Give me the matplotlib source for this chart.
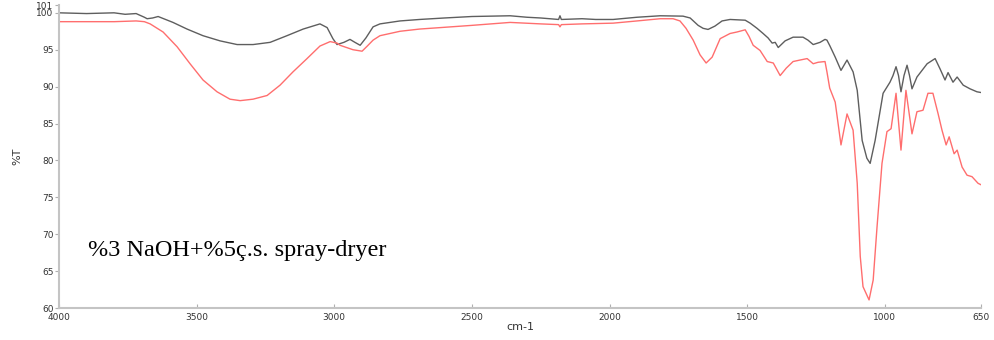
#!/usr/bin/python
# -*- coding: utf-8 -*-
import matplotlib
matplotlib.use('Agg')
import matplotlib.pyplot as plt

# wavenumber (cm-1) / %T
grey_x = [4000, 3900, 3800, 3760, 3720, 3690, 3680, 3660, 3640, 3586, 3535, 3477, 3415, 3353,
          3295, 3233, 3172, 3113, 3052, 3026, 3005, 2990, 2965, 2943, 2925, 2906, 2885, 2859,
          2834, 2761, 2690, 2600, 2500, 2361, 2300, 2250, 2185, 2180, 2175, 2100, 2050, 1987,
          1900, 1816, 1733, 1707, 1678, 1660, 1642, 1617, 1591, 1562, 1507, 1489, 1464, 1442,
          1424, 1409, 1398, 1387, 1362, 1333, 1297, 1279, 1260, 1235, 1217, 1210, 1199, 1180,
          1159, 1137, 1115, 1100, 1082, 1065, 1053, 1035, 1006, 981, 970, 959, 950, 941, 930,
          919, 910, 901, 883, 846, 817, 799, 781, 770, 752, 737, 715, 690, 665, 650]
grey_y = [100.0, 99.9, 100.0, 99.8, 99.9, 99.4, 99.2, 99.3, 99.5, 98.7, 97.8, 96.9, 96.2, 95.7,
          95.7, 96.0, 96.9, 97.8, 98.5, 98.0, 96.5, 95.7, 96.0, 96.4, 96.0, 95.6, 96.6, 98.1,
          98.5, 98.9, 99.1, 99.3, 99.5, 99.6, 99.4, 99.3, 99.1, 99.6, 99.1, 99.2, 99.1, 99.1,
          99.4, 99.6, 99.55, 99.3, 98.3, 97.9, 97.75, 98.2, 98.9, 99.1, 99.0, 98.6, 97.9, 97.2,
          96.6, 95.9, 96.0, 95.3, 96.2, 96.7, 96.7, 96.3, 95.7, 96.0, 96.4, 96.3, 95.5, 94.0,
          92.2, 93.6, 92.0, 89.5, 82.7, 80.3, 79.6, 82.7, 89.1, 90.6, 91.5, 92.7, 91.5, 89.3, 91.5,
          92.9, 91.5, 89.7, 91.3, 93.1, 93.8, 92.4, 90.9, 91.9, 90.6, 91.3, 90.2, 89.7, 89.3, 89.2]

red_x = [4000, 3800, 3720, 3690, 3669, 3622, 3571, 3524, 3477, 3426, 3379, 3342, 3295, 3244,
         3197, 3150, 3099, 3052, 3015, 2990, 2979, 2932, 2899, 2880, 2859, 2834, 2761, 2690,
         2500, 2361, 2250, 2185, 2180, 2175, 2100, 1987, 1900, 1816, 1769, 1744, 1722, 1696,
         1671, 1649, 1627, 1598, 1562, 1537, 1507, 1493, 1478, 1453, 1427, 1405, 1380, 1358,
         1333, 1308, 1282, 1260, 1242, 1217, 1210, 1200, 1180, 1159, 1137, 1115, 1100, 1089,
         1079, 1057, 1042, 1028, 1010, 992, 977, 959, 941, 923, 901, 883, 861, 843, 825, 806,
         792, 777, 766, 748, 737, 719, 701, 683, 661, 650]
red_y = [98.8, 98.8, 98.9, 98.8, 98.5, 97.4, 95.4, 93.1, 90.9, 89.3, 88.3, 88.1, 88.3, 88.8,
         90.2, 92.0, 93.8, 95.5, 96.1, 95.9, 95.6, 95.0, 94.8, 95.5, 96.3, 96.9, 97.5, 97.8,
         98.3, 98.7, 98.5, 98.4, 98.1, 98.4, 98.5, 98.6, 98.9, 99.2, 99.2, 98.9, 97.9, 96.3,
         94.3, 93.2, 94.0, 96.5, 97.2, 97.4, 97.7, 96.8, 95.6, 94.9, 93.4, 93.2, 91.5, 92.5,
         93.4, 93.6, 93.8, 93.1, 93.3, 93.4, 92.0, 89.8, 87.9, 82.1, 86.3, 84.1, 76.9, 67.0,
         62.9, 61.1, 63.8, 71.0, 79.6, 83.9, 84.3, 89.1, 81.4, 89.5, 83.6, 86.6, 86.8, 89.1,
         89.1, 86.3, 84.1, 82.1, 83.2, 80.9, 81.4, 79.1, 78.0, 77.8, 76.9, 76.7]

y_ticks = [60, 65, 70, 75, 80, 85, 90, 95, 100, 101]
x_ticks = [4000, 3500, 3000, 2500, 2000, 1500, 1000, 650]

fig = plt.figure(figsize=(9.94, 3.4), dpi=100)
ax = fig.add_axes([0.0594, 0.094, 0.9276, 0.890])

ax.plot(grey_x, grey_y, color='#5e5e5e', linewidth=1.0)
ax.plot(red_x, red_y, color='#ff6e6e', linewidth=1.0)

ax.set_xlim(4000, 650)
ax.set_ylim(60, 101)
ax.set_xticks(x_ticks)
ax.set_yticks(y_ticks)
ax.tick_params(axis='y', direction='out', length=3, width=0.8, colors='#b0b0b0',
               labelcolor='#333333', labelsize=6.5, pad=1)
ax.tick_params(axis='x', direction='in', length=3, width=0.8, colors='#b0b0b0',
               labelcolor='#333333', labelsize=6.5, pad=3.5)
for s in ['top', 'right']:
    ax.spines[s].set_visible(False)
for s in ['left', 'bottom']:
    ax.spines[s].set_color('#c4c4c4')
    ax.spines[s].set_linewidth(1.5)

ax.set_xlabel('cm-1', fontsize=8, color='#333333', labelpad=0)
ax.set_ylabel('%T', fontsize=8, color='#333333', labelpad=10)

ax.text(3895, 67.8, '%3 NaOH+%5ç.s. spray-dryer', fontsize=17.5,
        family='Liberation Serif', color='black', va='center', ha='left')

plt.savefig('out.png', dpi=100)
